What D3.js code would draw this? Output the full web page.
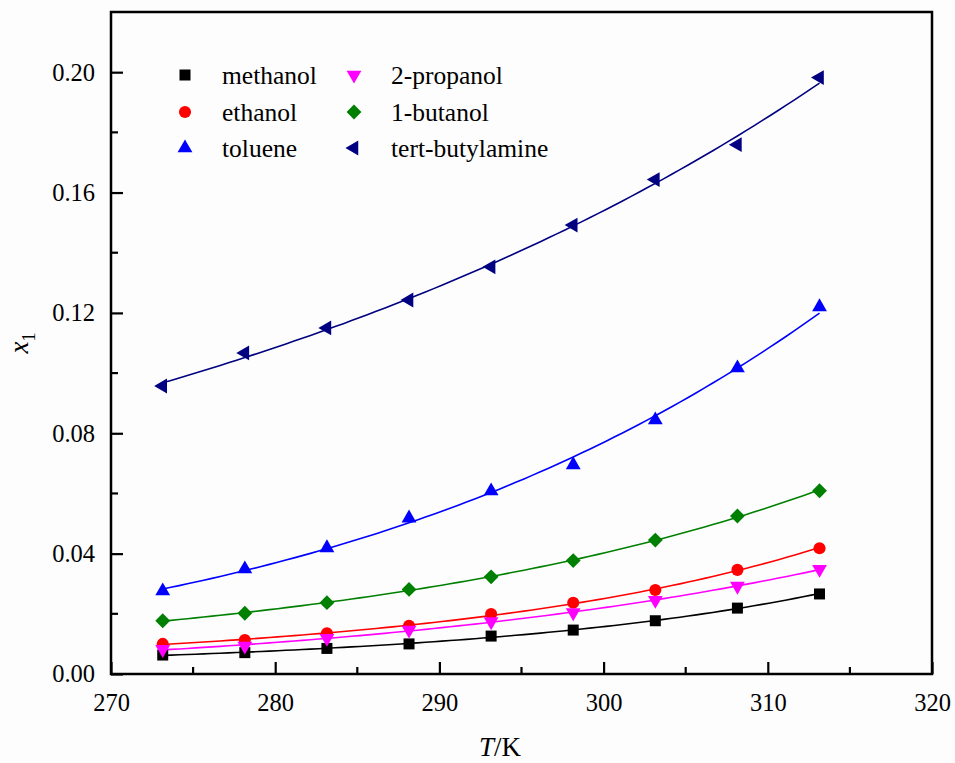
<!DOCTYPE html>
<html>
<head>
<meta charset="utf-8">
<script src="https://cdn.jsdelivr.net/npm/d3@7"></script>
<style>
  html, body { margin: 0; padding: 0; background: #fdfdfd; }
  svg { display: block; }
  svg text { font-family: "Liberation Serif", Tinos, "Times New Roman", Times, "DejaVu Serif", serif !important; fill: #000; }
</style>
</head>
<body>
<div id="chart"></div>
<script>
// temperatures (K)
const temps = [273.15, 278.15, 283.15, 288.15, 293.15, 298.15, 303.15, 308.15, 313.15];

// mole fraction solubility x1
const methanol       = [0.0063, 0.0071, 0.0085, 0.0100, 0.0126, 0.0146, 0.0177, 0.0219, 0.0266];
const ethanol        = [0.0100, 0.0113, 0.0135, 0.0160, 0.0199, 0.0237, 0.0279, 0.0346, 0.0418];
const toluene        = [0.0276, 0.0349, 0.0419, 0.0518, 0.0608, 0.0695, 0.0844, 0.1017, 0.1220];
const propanol2      = [0.0082, 0.0093, 0.0119, 0.0146, 0.0174, 0.0204, 0.0245, 0.0292, 0.0348];
const butanol1       = [0.0177, 0.0202, 0.0237, 0.0281, 0.0323, 0.0377, 0.0445, 0.0525, 0.0609];
const tertButylamine = [0.0957, 0.1067, 0.1150, 0.1243, 0.1353, 0.1492, 0.1643, 0.1759, 0.1982];

const xTicks = [270, 280, 290, 300, 310, 320];
const yTicks = [0.00, 0.04, 0.08, 0.12, 0.16, 0.20];

const series = [
  { name: "methanol",        values: methanol,       color: "#000000", shape: "square" },
  { name: "ethanol",         values: ethanol,        color: "#ff0000", shape: "circle" },
  { name: "toluene",         values: toluene,        color: "#0000ff", shape: "up" },
  { name: "2-propanol",      values: propanol2,      color: "#ff00ff", shape: "down" },
  { name: "1-butanol",       values: butanol1,       color: "#008000", shape: "diamond" },
  { name: "tert-butylamine", values: tertButylamine, color: "#000080", shape: "left" }
];

const width = 955, height = 763;
const margin = { top: 12, right: 23, bottom: 89, left: 111 };
const innerW = width - margin.left - margin.right;
const innerH = height - margin.top - margin.bottom;
const serif = "'Liberation Serif', Tinos, 'Times New Roman', Times, 'DejaVu Serif', serif";

const svg = d3.select("#chart").append("svg")
  .attr("width", width)
  .attr("height", height)
  .attr("font-family", serif);

const g = svg.append("g").attr("transform", `translate(${margin.left},${margin.top})`);

const x = d3.scaleLinear().domain([270, 320]).range([0, innerW]);
const y = d3.scaleLinear().domain([0, 0.22]).range([innerH, 0]);

// marker shapes
function symbolPath(shape) {
  switch (shape) {
    case "square":  return { d: d3.symbol(d3.symbolSquare, 121)(), rot: 0 };
    case "circle":  return { d: d3.symbol(d3.symbolCircle, 115)(), rot: 0 };
    case "up":      return { d: d3.symbol(d3.symbolTriangle, 95)(), rot: 0 };
    case "down":    return { d: d3.symbol(d3.symbolTriangle, 95)(), rot: 180 };
    case "diamond": return { d: d3.symbol(d3.symbolSquare, 110)(), rot: 45 };
    case "left":    return { d: d3.symbol(d3.symbolTriangle, 95)(), rot: -90 };
  }
}

// quadratic least squares fit of ln(x1) against T, for the smooth lines
function fitLine(ts, vs) {
  const t0 = 293.15, s = 20;
  const u = ts.map(t => (t - t0) / s);
  const lv = vs.map(v => Math.log(v));
  const S = [[0,0,0],[0,0,0],[0,0,0]], B = [0,0,0];
  u.forEach((ui, i) => {
    const p = [1, ui, ui * ui];
    for (let r = 0; r < 3; r++) {
      B[r] += p[r] * lv[i];
      for (let c = 0; c < 3; c++) S[r][c] += p[r] * p[c];
    }
  });
  // gaussian elimination
  for (let k = 0; k < 3; k++) {
    for (let r = k + 1; r < 3; r++) {
      const f = S[r][k] / S[k][k];
      for (let c = k; c < 3; c++) S[r][c] -= f * S[k][c];
      B[r] -= f * B[k];
    }
  }
  const a = [0,0,0];
  for (let r = 2; r >= 0; r--) {
    let sum = B[r];
    for (let c = r + 1; c < 3; c++) sum -= S[r][c] * a[c];
    a[r] = sum / S[r][r];
  }
  const pts = [];
  const tMin = d3.min(ts), tMax = d3.max(ts);
  for (let i = 0; i <= 80; i++) {
    const t = tMin + (tMax - tMin) * i / 80;
    const ui = (t - t0) / s;
    pts.push([t, Math.exp(a[0] + a[1] * ui + a[2] * ui * ui)]);
  }
  return pts;
}

const line = d3.line().x(d => x(d[0])).y(d => y(d[1]));

// fit lines
series.forEach(s => {
  g.append("path")
    .attr("d", line(fitLine(temps, s.values)))
    .attr("fill", "none")
    .attr("stroke", s.color)
    .attr("stroke-width", 1.6);
});

// markers
series.forEach(s => {
  const sym = symbolPath(s.shape);
  g.append("g").selectAll("path")
    .data(temps.map((t, i) => [t, s.values[i]]))
    .join("path")
    .attr("d", sym.d)
    .attr("transform", d => `translate(${x(d[0])},${y(d[1])}) rotate(${sym.rot})`)
    .attr("fill", s.color);
});

// axes: ticks pointing inward
const xMinor = d3.range(275, 320, 10);
const yMinor = d3.range(0.02, 0.22, 0.04);

const xAxis = g.append("g").attr("transform", `translate(0,${innerH})`)
  .call(d3.axisBottom(x).tickValues(xTicks).tickSize(-12).tickPadding(20).tickFormat(d3.format("d")));
xAxis.append("g").selectAll("line").data(xMinor).join("line")
  .attr("x1", d => x(d)).attr("x2", d => x(d)).attr("y1", 0).attr("y2", -7);

const yAxis = g.append("g")
  .call(d3.axisLeft(y).tickValues(yTicks).tickSize(-12).tickPadding(16).tickFormat(d3.format(".2f")));
yAxis.append("g").selectAll("line").data(yMinor).join("line")
  .attr("x1", 0).attr("x2", 7).attr("y1", d => y(d)).attr("y2", d => y(d));

[xAxis, yAxis].forEach(a => {
  a.attr("font-family", serif).attr("font-size", 24.5);
  a.select(".domain").remove();
  a.selectAll("line").attr("stroke", "#000").attr("stroke-width", 2.2);
  a.selectAll("text").attr("fill", "#000");
});

// frame
g.append("rect")
  .attr("x", 0).attr("y", 0)
  .attr("width", innerW).attr("height", innerH)
  .attr("fill", "none")
  .attr("stroke", "#000")
  .attr("stroke-width", 2.5);

// axis titles
const xt = svg.append("text")
  .attr("x", 500)
  .attr("y", 756)
  .attr("text-anchor", "middle")
  .attr("font-size", 27);
xt.append("tspan").attr("font-style", "italic").text("T");
xt.append("tspan").text("/K");

const yt = svg.append("text")
  .attr("transform", `translate(28,${margin.top + innerH / 2}) rotate(-90)`)
  .attr("text-anchor", "middle")
  .attr("font-size", 27);
yt.append("tspan").attr("font-style", "italic").text("x");
yt.append("tspan").attr("dy", 7).attr("font-size", 18).text("1");

// legend
const legendCols = [{ mx: 185, tx: 222 }, { mx: 354, tx: 391 }];
const legendRows = [75, 112, 148];
series.forEach((s, i) => {
  const col = legendCols[Math.floor(i / 3)];
  const ry = legendRows[i % 3];
  const sym = symbolPath(s.shape);
  svg.append("path")
    .attr("d", sym.d)
    .attr("transform", `translate(${col.mx},${ry}) rotate(${sym.rot})`)
    .attr("fill", s.color);
  svg.append("text")
    .attr("x", col.tx)
    .attr("y", ry)
    .attr("dy", "0.35em")
    .attr("font-size", 25.5)
    .text(s.name);
});
</script>
</body>
</html>
